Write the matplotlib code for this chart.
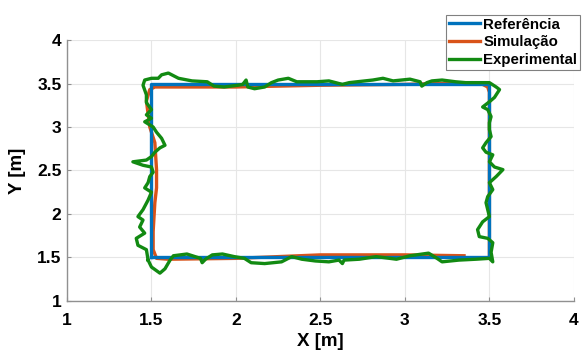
import matplotlib
matplotlib.use('Agg')
import matplotlib.pyplot as plt

plt.rcParams['font.family'] = ['Liberation Sans', 'DejaVu Sans']
plt.rcParams['font.weight'] = 'bold'

# reference square
ref_x = [1.5, 3.5, 3.5, 1.5, 1.5]
ref_y = [1.5, 1.5, 3.5, 3.5, 1.5]

# simulated trajectory
sim_x = [3.50, 3.50, 3.50, 3.49, 3.46, 3.40, 3.00, 2.50, 2.00, 1.60, 1.52, 1.49, 1.47,
         1.49, 1.52, 1.53, 1.53, 1.52, 1.51, 1.51, 1.53, 1.60, 2.00, 2.50, 3.00, 3.35]
sim_y = [1.52, 2.50, 3.40, 3.46, 3.49, 3.51, 3.49, 3.48, 3.46, 3.46, 3.46, 3.43, 3.30,
         3.00, 2.82, 2.51, 2.30, 2.13, 1.80, 1.59, 1.49, 1.48, 1.49, 1.53, 1.53, 1.52]

# experimental trajectory
exp_x = [1.48, 1.50, 1.55, 1.58, 1.61, 1.63, 1.71, 1.79, 1.80, 1.82, 1.86, 1.92, 1.99,
         2.05, 2.09, 2.17, 2.27, 2.33, 2.39, 2.47, 2.55, 2.61, 2.63, 2.64, 2.73, 2.83,
         2.95, 3.03, 3.14, 3.19, 3.22, 3.32, 3.42, 3.50, 3.52,
         3.51, 3.52, 3.49, 3.44, 3.43, 3.46, 3.50, 3.49, 3.48, 3.49, 3.52, 3.50, 3.54,
         3.58, 3.53, 3.50, 3.52, 3.48, 3.46, 3.48, 3.51, 3.50, 3.50, 3.51, 3.49, 3.46,
         3.50, 3.53, 3.56, 3.54, 3.50,
         3.44, 3.36, 3.30, 3.22, 3.16, 3.13, 3.10, 3.09, 3.03, 2.93, 2.87, 2.81, 2.67,
         2.63, 2.55, 2.48, 2.36, 2.31, 2.25, 2.21, 2.17, 2.11, 2.07, 2.06, 2.04, 2.01,
         1.93, 1.87, 1.83, 1.74, 1.66, 1.60, 1.56, 1.54, 1.50, 1.46, 1.45,
         1.47, 1.47, 1.50, 1.47, 1.50, 1.46, 1.51, 1.53, 1.56, 1.58, 1.55, 1.52, 1.50,
         1.47, 1.39, 1.45, 1.50, 1.51, 1.49, 1.48, 1.46, 1.50, 1.48, 1.45, 1.42, 1.45,
         1.43, 1.46, 1.41, 1.42, 1.47, 1.48]
exp_y = [1.47, 1.39, 1.32, 1.37, 1.47, 1.52, 1.54, 1.49, 1.44, 1.48, 1.53, 1.54, 1.51,
         1.49, 1.44, 1.43, 1.45, 1.51, 1.48, 1.46, 1.45, 1.47, 1.43, 1.47, 1.48, 1.51,
         1.48, 1.52, 1.55, 1.49, 1.45, 1.47, 1.48, 1.49, 1.45,
         1.56, 1.67, 1.72, 1.74, 1.82, 1.91, 1.97, 2.05, 2.13, 2.20, 2.28, 2.36, 2.43,
         2.51, 2.54, 2.60, 2.68, 2.71, 2.76, 2.82, 2.89, 2.97, 3.05, 3.12, 3.20, 3.23,
         3.29, 3.34, 3.43, 3.46, 3.51,
         3.51, 3.51, 3.52, 3.54, 3.53, 3.51, 3.47, 3.52, 3.55, 3.53, 3.56, 3.54, 3.51,
         3.49, 3.53, 3.52, 3.52, 3.56, 3.54, 3.51, 3.46, 3.44, 3.46, 3.54, 3.49, 3.48,
         3.46, 3.47, 3.52, 3.53, 3.56, 3.62, 3.60, 3.56, 3.56, 3.54, 3.48,
         3.37, 3.28, 3.20, 3.14, 3.10, 3.06, 3.00, 2.94, 2.87, 2.79, 2.76, 2.71, 2.66,
         2.62, 2.60, 2.56, 2.54, 2.48, 2.43, 2.36, 2.30, 2.25, 2.16, 2.05, 1.97, 1.93,
         1.85, 1.78, 1.72, 1.64, 1.59, 1.47]

ticks = [1, 1.5, 2, 2.5, 3, 3.5, 4]
tick_labels = ['1', '1.5', '2', '2.5', '3', '3.5', '4']

fig = plt.figure(figsize=(5.85, 3.51), dpi=100)
ax = fig.add_axes([0.1145, 0.1425, 0.8665, 0.7435])

h_ref, = ax.plot(ref_x, ref_y, color='#0072BD', lw=2.4, zorder=3, label='Referência')
h_sim, = ax.plot(sim_x, sim_y, color='#D95319', lw=2.4, zorder=2, label='Simulação')
h_exp, = ax.plot(exp_x, exp_y, color='#128a12', lw=2.4, zorder=4, label='Experimental')

ax.set_xlim(1, 4)
ax.set_ylim(1, 4)
ax.set_xticks(ticks)
ax.set_xticklabels(tick_labels)
ax.set_yticks(ticks)
ax.set_yticklabels(tick_labels)
ax.tick_params(labelsize=12.5, direction='in', length=3, color='#909090')
ax.tick_params(axis='x', pad=9)
ax.tick_params(axis='y', pad=4)
ax.grid(True, color='#e6e6e6', lw=0.8)
ax.set_axisbelow(True)
for s in ['top', 'right']:
    ax.spines[s].set_visible(False)
for s in ['left', 'bottom']:
    ax.spines[s].set_color('#909090')
    ax.spines[s].set_linewidth(1.0)

ax.set_xlabel('X [m]', fontsize=13.5, fontweight='bold', labelpad=3)
ax.set_ylabel('Y [m]', fontsize=13.5, fontweight='bold', labelpad=8)

leg = fig.legend(handles=[h_ref, h_sim, h_exp], loc='upper right',
                 bbox_to_anchor=(0.992, 0.958), fontsize=10.8, frameon=True,
                 fancybox=False, framealpha=1, edgecolor='#808080',
                 handlelength=2.1, handletextpad=0.2, borderpad=0.2,
                 labelspacing=0.25, borderaxespad=0)
leg.get_frame().set_linewidth(0.8)

fig.savefig('out.png', dpi=100)
